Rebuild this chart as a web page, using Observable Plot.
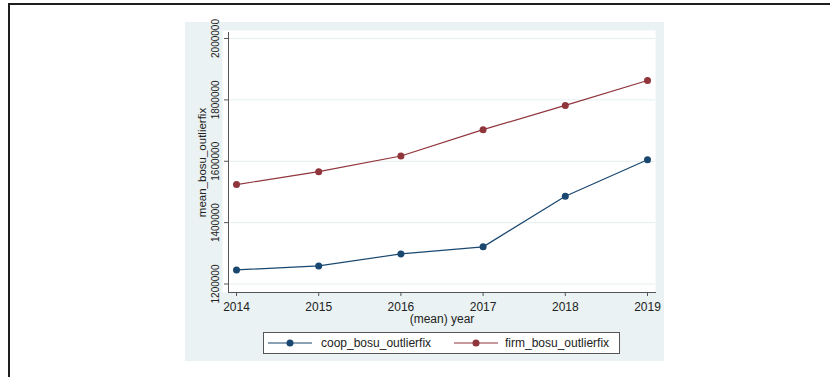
<!DOCTYPE html>
<html>
<head>
<meta charset="utf-8">
<script src="https://cdn.jsdelivr.net/npm/d3@7"></script>
<script src="https://cdn.jsdelivr.net/npm/@observablehq/plot@0.6"></script>
<style>
html, body { margin: 0; padding: 0; background: #fff; }
#wrap { position: relative; width: 830px; height: 377px; overflow: hidden; font-family: "Liberation Sans", Arial, sans-serif; color: #222; }
#border { position: absolute; left: 8px; top: 3px; right: -10px; bottom: -10px; border-top: 2px solid #1e1e1e; border-left: 2px solid #1e1e1e; }
#region { position: absolute; left: 185px; top: 22px; width: 479px; height: 339px; background: #eaf2f3; }
#chart { position: absolute; left: 0; top: 0; }
#legend { position: absolute; left: 263px; top: 332px; width: 355px; height: 20px; border: 1px solid #555; background: #fff; font-size: 12px; }
.item { position: absolute; top: 0; height: 20px; }
.item svg { position: absolute; top: 0; left: 0; }
.item span { position: absolute; top: 3px; white-space: nowrap; }
</style>
</head>
<body>
<div id="wrap">
  <div id="border"></div>
  <div id="region"></div>
  <div id="chart"></div>
  <div id="legend"></div>
</div>
<script>
// ---- data ----
const years = [2014, 2015, 2016, 2017, 2018, 2019];
const coop = [1246000, 1259000, 1298000, 1321000, 1486000, 1605000];
const firm = [1524000, 1566000, 1617000, 1703000, 1782000, 1863000];
const seriesNames = ["coop_bosu_outlierfix", "firm_bosu_outlierfix"];
const seriesColors = ["#1a476f", "#90353b"];
const yTicks = [1200000, 1400000, 1600000, 1800000, 2000000];
const xLabel = "(mean) year";
const yLabel = "mean_bosu_outlierfix";

const rows = years.flatMap((yr, i) => [
  {year: yr, value: coop[i], series: seriesNames[0]},
  {year: yr, value: firm[i], series: seriesNames[1]}
]);

const chart = Plot.plot({
  width: 830,
  height: 377,
  marginLeft: 228,
  marginRight: 175,
  marginTop: 32,
  marginBottom: 85,
  x: {domain: [2014, 2019], insetLeft: 8, insetRight: 8},
  y: {domain: [1200000, 2000000], insetTop: 6, insetBottom: 8.5},
  color: {domain: seriesNames, range: seriesColors},
  style: {background: "transparent", fontFamily: "'Liberation Sans', Arial, sans-serif", fontSize: "12px", color: "#222", overflow: "visible"},
  marks: [
    Plot.frame({fill: "white", stroke: null, insetLeft: -6, insetTop: -2}),
    Plot.gridY(yTicks, {stroke: "#e6eef0", strokeOpacity: 1}),
    Plot.frame({anchor: "left", stroke: "#555"}),
    Plot.frame({anchor: "bottom", stroke: "#555"}),
    Plot.axisY(yTicks, {tickSize: 4, tickPadding: 6, tickRotate: -90, tickFormat: d3.format("d"), fontSize: 10, label: null, stroke: "#555"}),
    Plot.axisX(years, {tickSize: 4, tickPadding: 6, tickFormat: d3.format("d"), fontSize: 12, label: null, stroke: "#555"}),
    Plot.line(rows, {x: "year", y: "value", z: "series", stroke: "series", strokeWidth: 1.2}),
    Plot.dot(rows, {x: "year", y: "value", fill: "series", r: 3.5}),
    Plot.text([xLabel], {frameAnchor: "bottom", dy: 30, fontSize: 12}),
    Plot.text([yLabel], {frameAnchor: "left", textAnchor: "middle", dx: -26, rotate: -90, fontSize: 11.5})
  ]
});
document.getElementById("chart").appendChild(chart);

// ---- legend ----
const legend = document.getElementById("legend");
const itemPos = [{sw: 4, tx: 57}, {sw: 190, tx: 241}];
seriesNames.forEach((name, i) => {
  const sw = document.createElement("div");
  sw.className = "item";
  sw.style.left = itemPos[i].sw + "px";
  sw.innerHTML = `<svg width="44" height="20"><line x1="0" x2="44" y1="10" y2="10" stroke="${seriesColors[i]}" stroke-width="1.2"/><circle cx="22" cy="10" r="3.5" fill="${seriesColors[i]}"/></svg>`;
  legend.appendChild(sw);
  const tx = document.createElement("div");
  tx.className = "item";
  tx.style.left = itemPos[i].tx + "px";
  tx.innerHTML = `<span>${name}</span>`;
  legend.appendChild(tx);
});
</script>
</body>
</html>
